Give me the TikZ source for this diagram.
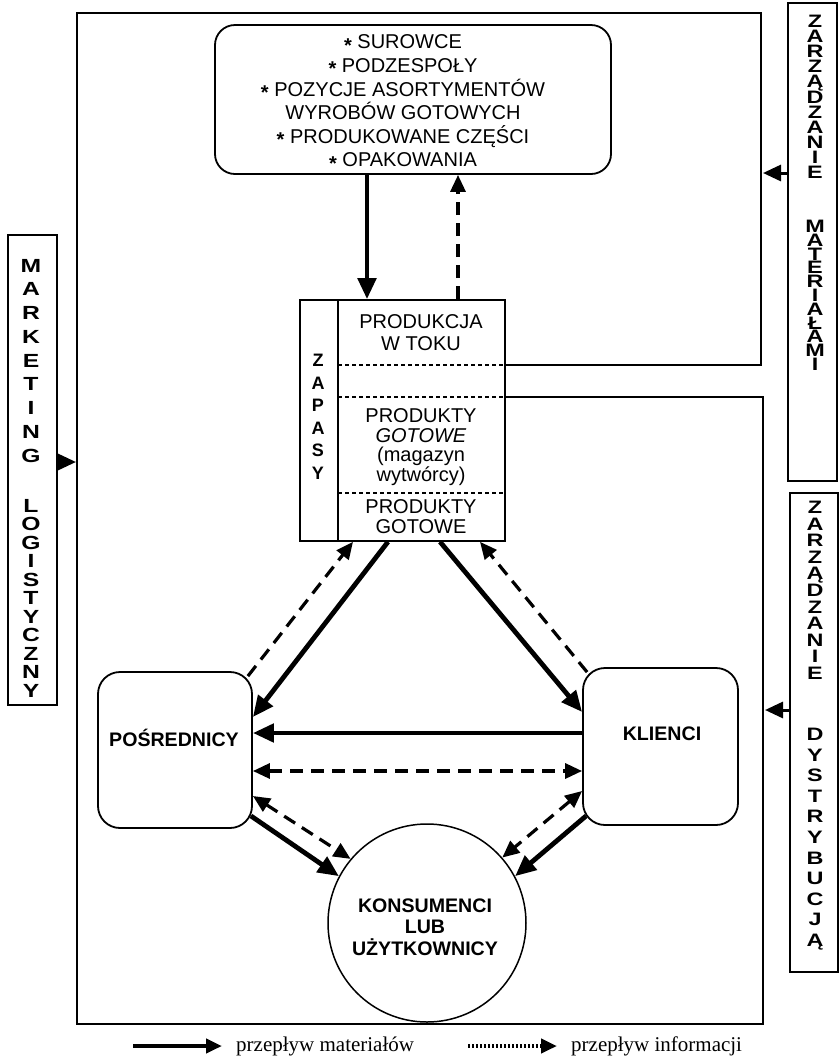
\documentclass[tikz,border=0pt]{standalone}
\usepackage{graphicx}
\usepackage{fontspec}
\setmainfont{Liberation Sans}
\newfontfamily\legendfont{Liberation Serif}
\usetikzlibrary{arrows.meta}
\newcommand{\bulletstar}{\raisebox{-3.5pt}[0pt][0pt]{\bfseries *}}
\newcommand{\wideletter}[1]{\scalebox{1.3}[1]{#1}}
\begin{document}
\begin{tikzpicture}[x=1pt,y=-1pt,
  frameline/.style={line width=2.6pt, line join=miter},
  box/.style={draw, line width=1.8pt, rounded corners=20pt, inner sep=0pt},
  labelbox/.style={draw, line width=1.5pt, inner sep=0pt},
  sepline/.style={line width=1.2pt, dash pattern=on 4pt off 3pt},
  mat/.style={line width=4.8pt, -{Triangle[length=21pt,width=18pt]}},
  inf/.style={line width=3.2pt, dash pattern=on 13pt off 8pt, -{Triangle[length=17pt,width=15pt]}},
  infboth/.style={line width=3.2pt, dash pattern=on 13pt off 8pt, {Triangle[length=17pt,width=15pt]}-{Triangle[length=17pt,width=15pt]}},
  side/.style={line width=3pt, -{Triangle[length=18pt,width=16pt]}},
  txt/.style={align=center, inner sep=0pt, font=\fontsize{20}{23.6}\selectfont},
  boldtxt/.style={align=center, inner sep=0pt, font=\bfseries\fontsize{19.6}{21.5}\selectfont},
  vlet/.style={font=\bfseries\fontsize{18}{18}\selectfont, inner sep=0pt, anchor=base},
  mklet/.style={font=\bfseries\fontsize{19}{19}\selectfont, inner sep=0pt, anchor=base},
]
\useasboundingbox (0,0) rectangle (840,1061);

% ---- materials box at the top
\node[box, minimum width=396pt, minimum height=149pt] (src) at (413,99.5) {};
\node[txt] (srctxt) at (403,101) {\bulletstar\ SUROWCE\\ \bulletstar\ PODZESPOŁY\\ \bulletstar\ POZYCJE ASORTYMENTÓW\\ WYROBÓW GOTOWYCH\\ \bulletstar\ PRODUKOWANE CZĘŚCI\\ \bulletstar\ OPAKOWANIA};

% ---- stock column
\node[draw, line width=1.6pt, minimum width=205pt, minimum height=241pt, inner sep=0pt] (zap) at (402.5,420.5) {};
\coordinate (zdiv) at (338,300);
\draw[line width=1.5pt] (zap.north -| zdiv) -- (zap.south -| zdiv);
\coordinate (d1) at (338,365);
\coordinate (d2) at (338,397);
\coordinate (d3) at (338,493);
\draw[sepline] (d1) -- (d1 -| zap.east);
\draw[sepline] (d2) -- (d2 -| zap.east);
\draw[sepline] (d3) -- (d3 -| zap.east);
\foreach \l [count=\i from 0] in {Z,A,P,A,S,Y}
  \node[vlet] (zl\i) at (318,366.5+22.6*\i) {\l};
\node[txt, font=\fontsize{20}{22}\selectfont] (wip) at (421,333) {PRODUKCJA\\W TOKU};
\node[txt, font=\fontsize{20}{19.5}\selectfont] (fg1) at (421,447) {PRODUKTY\\\textit{GOTOWE}\\(magazyn\\wytwórcy)};
\node[txt, font=\fontsize{20}{20}\selectfont] (fg2) at (421,517) {PRODUKTY\\GOTOWE};

% ---- outer frame, split at the stock column
\coordinate (fa) at (761,365);
\coordinate (fb) at (761,13);
\coordinate (fc) at (77,13);
\coordinate (fd) at (77,1024);
\coordinate (fe) at (763,1024);
\coordinate (ff) at (763,397);
\draw[frameline] (d1 -| zap.east) -- (fa) -- (fb) -- (fc) -- (fd) -- (fe) -- (ff) -- (d2 -| zap.east);

% ---- channel boxes and the consumer circle
\node[box, rounded corners=22pt, minimum width=154pt, minimum height=156pt] (po) at (175,750) {};
\node[boldtxt] (potxt) at (174,738) {POŚREDNICY};
\node[box, rounded corners=22pt, minimum width=155pt, minimum height=157pt] (kl) at (660.5,746.5) {};
\node[boldtxt] (kltxt) at (662,734) {KLIENCI};
\node[draw, circle, line width=1.5pt, minimum size=198pt, inner sep=0pt] (cons) at (427,923) {};
\node[boldtxt] (constxt) at (425,927) {KONSUMENCI\\LUB\\UŻYTKOWNICY};

% ---- flows
\draw[mat] ([xshift=-46pt]src.south) -- ([xshift=-35.5pt]zap.north);
\draw[inf] ([xshift=55.5pt]zap.north) -- ([xshift=45pt]src.south);
\draw[mat] ([xshift=-14.5pt]zap.south) -- ([yshift=33pt]po.east);
\draw[inf] ([shift={(-5pt,-5pt)}]po.north east) -- ([xshift=-49.5pt]zap.south);
\draw[mat] ([xshift=37.5pt]zap.south) -- ([yshift=34.5pt]kl.west);
\draw[inf] ([shift={(5pt,-5pt)}]kl.north west) -- ([xshift=77.5pt]zap.south);
\draw[mat] ([yshift=13.5pt]kl.west) -- ([yshift=17pt]po.east);
\draw[infboth] ([yshift=-21pt]po.east) -- ([yshift=-24.5pt]kl.west);
\draw[infboth] ([yshift=-46pt]po.east) -- (cons.140);
\draw[mat] ([shift={(-2pt,13pt)}]po.south east) -- (cons.152);
\draw[infboth] ([yshift=-44.5pt]kl.west) -- (cons.41);
\draw[mat] ([shift={(4pt,10pt)}]kl.south west) -- (cons.28);

% ---- side management panels
\node[labelbox, minimum width=49pt, minimum height=478pt] (zm) at (812.5,242) {};
\node[labelbox, minimum width=48pt, minimum height=479pt] (dy) at (814,732.5) {};
\node[labelbox, minimum width=49pt, minimum height=470pt] (mk) at (32.5,470) {};
\foreach \l [count=\i from 0] in {Z,A,R,Z,Ą,D,Z,A,N,I,E}
  \node[vlet] (zma\i) at (815,27.5+15.1*\i) {\wideletter{\l}};
\foreach \l [count=\i from 0] in {M,A,T,E,R,I,A,Ł,A,M,I}
  \node[vlet] (zmb\i) at (815,232.5+13.8*\i) {\wideletter{\l}};
\foreach \l [count=\i from 0] in {Z,A,R,Z,Ą,D,Z,A,N,I,E}
  \node[vlet] (dya\i) at (815,513.5+16.6*\i) {\wideletter{\l}};
\foreach \l [count=\i from 0] in {D,Y,S,T,R,Y,B,U,C,J,Ą}
  \node[vlet] (dyb\i) at (815,740.5+20.6*\i) {\wideletter{\l}};
\foreach \l [count=\i from 0] in {M,A,R,K,E,T,I,N,G}
  \node[mklet] (mka\i) at (31,272+23.75*\i) {\wideletter{\l}};
\foreach \l [count=\i from 0] in {L,O,G,I,S,T,Y,C,Z,N,Y}
  \node[mklet] (mkb\i) at (31,512+18.5*\i) {\wideletter{\l}};
\coordinate (zmtip) at (763,173);
\coordinate (dytip) at (765,710);
\coordinate (mktip) at (76,462);
\draw[side] ([yshift=69pt]zm.west) -- (zmtip);
\draw[side] ([yshift=22.5pt]dy.west) -- (dytip);
\draw[side] ([yshift=8pt]mk.east) -- (mktip);

% ---- legend
\coordinate (lm1) at (133,1046);
\coordinate (lm2) at (222,1046);
\coordinate (li1) at (468,1046);
\coordinate (li2) at (557,1046);
\draw[line width=4pt, -{Triangle[length=16pt,width=14pt]}] (lm1) -- (lm2);
\draw[line width=4pt, dash pattern=on 2pt off 2pt, -{Triangle[length=16pt,width=14pt]}] (li1) -- (li2);
\node[anchor=west, inner sep=0pt, font=\legendfont\fontsize{21}{21}\selectfont] (lmt) at (236,1046) {przepływ materiałów};
\node[anchor=west, inner sep=0pt, font=\legendfont\fontsize{21}{21}\selectfont] (lit) at (571,1046) {przepływ informacji};
\end{tikzpicture}
\end{document}
